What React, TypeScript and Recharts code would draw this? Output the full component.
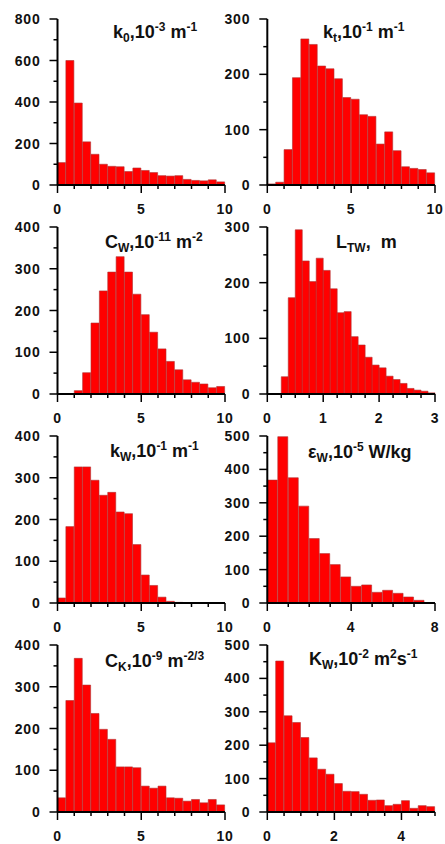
import { Bar, BarChart, XAxis, YAxis } from 'recharts'

// bin counts (equal-width bins across each x range)
const K0_COUNTS = [108, 600, 395, 208, 148, 100, 90, 88, 65, 82, 70, 60, 45, 43, 45, 27, 22, 20, 25, 15]
const KT_COUNTS = [2, 5, 64, 194, 264, 254, 215, 210, 192, 158, 155, 127, 124, 74, 96, 62, 33, 30, 28, 22]
const CW_COUNTS = [0, 0, 8, 51, 170, 247, 292, 329, 292, 239, 190, 148, 108, 78, 58, 34, 28, 24, 15, 18]
const LTW_COUNTS = [0, 0, 31, 173, 295, 239, 202, 244, 222, 189, 146, 148, 103, 88, 66, 52, 47, 32, 26, 19, 10, 7, 5, 2]
const KW_COUNTS = [12, 183, 326, 326, 294, 258, 265, 218, 214, 140, 67, 42, 14, 4, 1.5, 1, 0.5, 0, 0, 0]
const EW_COUNTS = [368, 498, 375, 290, 193, 148, 115, 78, 50, 54, 32, 38, 29, 18, 8, 0]
const CK_COUNTS = [34, 267, 368, 304, 236, 198, 174, 108, 108, 106, 62, 57, 62, 34, 33, 26, 30, 22, 30, 17]
const KWW_COUNTS = [207, 452, 288, 268, 223, 162, 128, 113, 85, 62, 61, 53, 35, 36, 19, 23, 34, 11, 19, 16]

// tick values
const X10_MAJOR = [0, 5, 10]
const X10_MINOR = [1, 2, 3, 4, 6, 7, 8, 9]
const X3_MAJOR = [0, 1, 2, 3]
const X3_MINOR = [0.25, 0.5, 0.75, 1.25, 1.5, 1.75, 2.25, 2.5, 2.75]
const X8_MAJOR = [0, 4, 8]
const X8_MINOR = [1, 2, 3, 5, 6, 7]
const X5_MAJOR = [0, 2, 4]
const X5_MINOR = [0.5, 1, 1.5, 2.5, 3, 3.5, 4.5, 5]

const Y800_MAJOR = [0, 200, 400, 600, 800]
const Y800_MINOR = [100, 300, 500, 700]
const Y300_MAJOR = [0, 100, 200, 300]
const Y300_MINOR = [50, 150, 250]
const Y400_MAJOR = [0, 100, 200, 300, 400]
const Y400_MINOR = [50, 150, 250, 350]
const Y500_MAJOR = [0, 100, 200, 300, 400, 500]
const Y500_MINOR = [50, 150, 250, 350, 450]

const FONT = '"Liberation Sans", Arial, sans-serif'

type Part = { t: string; k?: 'sub' | 'sup' }

const PANELS = [
  { counts: K0_COUNTS, xMax: 10, xMajor: X10_MAJOR, xMinor: X10_MINOR, yMax: 800, yMajor: Y800_MAJOR, yMinor: Y800_MINOR, col: 0, row: 0 },
  { counts: KT_COUNTS, xMax: 10, xMajor: X10_MAJOR, xMinor: X10_MINOR, yMax: 300, yMajor: Y300_MAJOR, yMinor: Y300_MINOR, col: 1, row: 0 },
  { counts: CW_COUNTS, xMax: 10, xMajor: X10_MAJOR, xMinor: X10_MINOR, yMax: 400, yMajor: Y400_MAJOR, yMinor: Y400_MINOR, col: 0, row: 1 },
  { counts: LTW_COUNTS, xMax: 3, xMajor: X3_MAJOR, xMinor: X3_MINOR, yMax: 300, yMajor: Y300_MAJOR, yMinor: Y300_MINOR, col: 1, row: 1 },
  { counts: KW_COUNTS, xMax: 10, xMajor: X10_MAJOR, xMinor: X10_MINOR, yMax: 400, yMajor: Y400_MAJOR, yMinor: Y400_MINOR, col: 0, row: 2 },
  { counts: EW_COUNTS, xMax: 8, xMajor: X8_MAJOR, xMinor: X8_MINOR, yMax: 500, yMajor: Y500_MAJOR, yMinor: Y500_MINOR, col: 1, row: 2 },
  { counts: CK_COUNTS, xMax: 10, xMajor: X10_MAJOR, xMinor: X10_MINOR, yMax: 400, yMajor: Y400_MAJOR, yMinor: Y400_MINOR, col: 0, row: 3 },
  { counts: KWW_COUNTS, xMax: 5, xMajor: X5_MAJOR, xMinor: X5_MINOR, yMax: 500, yMajor: Y500_MAJOR, yMinor: Y500_MINOR, col: 1, row: 3 },
]

const TITLES: { x: number; y: number; parts: Part[] }[] = [
  { x: 113, y: 38, parts: [{ t: 'k' }, { t: '0', k: 'sub' }, { t: ',10' }, { t: '-3', k: 'sup' }, { t: ' m' }, { t: '-1', k: 'sup' }] },
  { x: 323, y: 38, parts: [{ t: 'k' }, { t: 't', k: 'sub' }, { t: ',10' }, { t: '-1', k: 'sup' }, { t: ' m' }, { t: '-1', k: 'sup' }] },
  { x: 105, y: 248, parts: [{ t: 'C' }, { t: 'W', k: 'sub' }, { t: ',10' }, { t: '-11', k: 'sup' }, { t: ' m' }, { t: '-2', k: 'sup' }] },
  { x: 336, y: 248, parts: [{ t: 'L' }, { t: 'TW', k: 'sub' }, { t: ',  m' }] },
  { x: 110, y: 457, parts: [{ t: 'k' }, { t: 'W', k: 'sub' }, { t: ',10' }, { t: '-1', k: 'sup' }, { t: ' m' }, { t: '-1', k: 'sup' }] },
  { x: 308, y: 458, parts: [{ t: 'ε' }, { t: 'W', k: 'sub' }, { t: ',10' }, { t: '-5', k: 'sup' }, { t: ' W/kg' }] },
  { x: 105, y: 667, parts: [{ t: 'C' }, { t: 'K', k: 'sub' }, { t: ',10' }, { t: '-9', k: 'sup' }, { t: ' m' }, { t: '-2/3', k: 'sup' }] },
  { x: 309, y: 665, parts: [{ t: 'K' }, { t: 'W', k: 'sub' }, { t: ',10' }, { t: '-2', k: 'sup' }, { t: ' m' }, { t: '2', k: 'sup' }, { t: 's' }, { t: '-1', k: 'sup' }] },
]

const PLOT_TOP = [19, 227, 436, 645]
const PLOT_H = [166, 167, 167, 167]
const COL_LEFT = [0, 210]

function YTick(props: any) {
  const { x, y, payload, majors } = props
  const major = majors.includes(payload.value)
  return (
    <g>
      <line x1={x} x2={x - (major ? 8 : 4)} y1={y} y2={y} stroke="#000" strokeWidth={1.5} />
      {major && (
        <text x={x - 17} y={y} dy={5} textAnchor="end" fontFamily={FONT} fontWeight="bold" fontSize={14} letterSpacing={0.8} fill="#111">
          {payload.value}
        </text>
      )}
    </g>
  )
}

function XTick(props: any) {
  const { x, y, payload, majors } = props
  const major = majors.includes(payload.value)
  return (
    <g>
      <line x1={x} x2={x} y1={y} y2={y + (major ? 8 : 4)} stroke="#000" strokeWidth={1.5} />
      {major && (
        <text x={x} y={y + 29} textAnchor="middle" fontFamily={FONT} fontWeight="bold" fontSize={14} letterSpacing={0.8} fill="#111">
          {payload.value}
        </text>
      )}
    </g>
  )
}

function Histogram({ p }: { p: (typeof PANELS)[number] }) {
  const w = p.xMax / p.counts.length
  const data = p.counts.map((c, i) => ({ bin: i, mid: (i + 0.5) * w, count: c }))
  const h = 15 + PLOT_H[p.row] + 34
  return (
    <div style={{ position: 'absolute', left: COL_LEFT[p.col], top: PLOT_TOP[p.row] - 15 }}>
      <BarChart width={240} height={h} data={data} margin={{ top: 15, right: 15, left: 0, bottom: 0 }} barCategoryGap={0} barGap={0}>
        <XAxis xAxisId="cat" dataKey="bin" orientation="top" height={0} hide />
        <XAxis
          xAxisId="num"
          dataKey="mid"
          type="number"
          domain={[0, p.xMax]}
          allowDataOverflow
          ticks={[...p.xMajor, ...p.xMinor]}
          interval={0}
          tickLine={false}
          tickSize={0}
          tickMargin={0}
          height={34}
          axisLine={{ stroke: '#000', strokeWidth: 2 }}
          tick={(t: any) => <XTick {...t} majors={p.xMajor} />}
        />
        <YAxis
          domain={[0, p.yMax]}
          allowDataOverflow
          ticks={[...p.yMajor, ...p.yMinor]}
          interval={0}
          tickLine={false}
          tickSize={0}
          tickMargin={0}
          width={p.col === 0 ? 57.5 : 57.3}
          axisLine={{ stroke: '#000', strokeWidth: 2 }}
          tick={(t: any) => <YTick {...t} majors={p.yMajor} />}
        />
        <Bar xAxisId="cat" dataKey="count" fill="#ff0000" stroke="#b03030" strokeWidth={0.6} isAnimationActive={false} />
      </BarChart>
    </div>
  )
}

export default function App() {
  return (
    <div style={{ position: 'absolute', left: 0, top: 0, width: 445, height: 844, background: '#fff', overflow: 'hidden' }}>
      {PANELS.map((p, i) => (
        <Histogram key={i} p={p} />
      ))}
      <svg width={445} height={844} style={{ position: 'absolute', left: 0, top: 0, pointerEvents: 'none' }}>
        {TITLES.map((ti, i) => (
          <text key={i} x={ti.x} y={ti.y} fontFamily={FONT} fontWeight="bold" fontSize={18} fill="#111" style={{ whiteSpace: 'pre' }}>
            {ti.parts.map((pt, j) => (
              <tspan
                key={j}
                y={pt.k === 'sub' ? ti.y + 4 : pt.k === 'sup' ? ti.y - 7 : ti.y}
                fontSize={pt.k ? 12 : 18}
              >
                {pt.t}
              </tspan>
            ))}
          </text>
        ))}
      </svg>
    </div>
  )
}
